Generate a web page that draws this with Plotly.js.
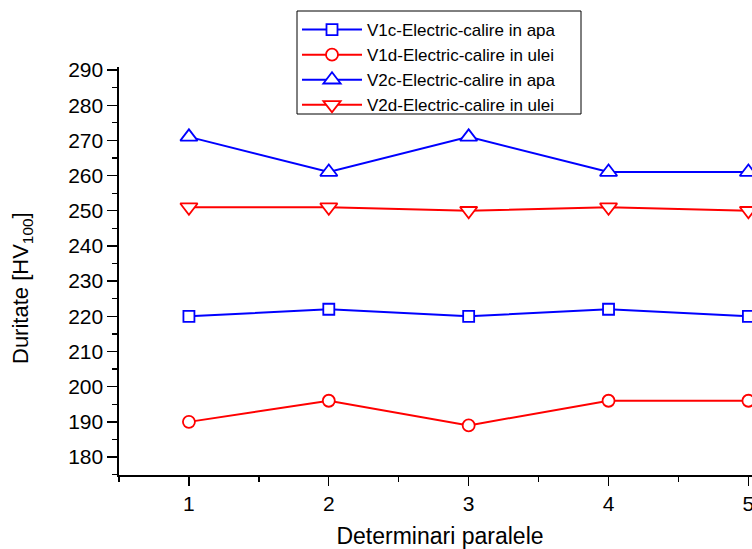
<!DOCTYPE html>
<html>
<head>
<meta charset="utf-8">
<script src="https://cdn.plot.ly/plotly-3.0.1.min.js"></script>
<style>
html,body{margin:0;padding:0;overflow:hidden;background:#fff;}
#chart{width:770px;height:549px;}
</style>
</head>
<body>
<div id="chart"></div>
<script>
const x = [1, 2, 3, 4, 5];
const v1c = [220, 222, 220, 222, 220];
const v1d = [190, 196, 189, 196, 196];
const v2c = [271, 261, 271, 261, 261];
const v2d = [251, 251, 250, 251, 250];
const names = [
  "V1c-Electric-calire in apa",
  "V1d-Electric-calire in ulei",
  "V2c-Electric-calire in apa",
  "V2d-Electric-calire in ulei"
];
const yTickVals = [180, 190, 200, 210, 220, 230, 240, 250, 260, 270, 280, 290];
const xTickVals = [1, 2, 3, 4, 5];
const xMinorVals = [0.5, 1.5, 2.5, 3.5, 4.5];
const xTitle = 'Determinari paralele';
const yTitle = 'Duritate [HV<sub>100</sub>]';

function tr(y, name, color, symbol, size) {
  return {
    x: x, y: y, name: name, type: 'scatter', mode: 'lines+markers',
    line: {color: color, width: 2},
    marker: {symbol: symbol, size: size, color: 'white', line: {color: color, width: 1.8}},
    cliponaxis: true
  };
}
const data = [
  tr(v1c, names[0], '#0000ff', 'square', 11),
  tr(v1d, names[1], '#ff0000', 'circle', 12),
  tr(v2c, names[2], '#0000ff', 'triangle-up', 15),
  tr(v2d, names[3], '#ff0000', 'triangle-down', 15)
];
const fam = 'Liberation Sans, Arial, sans-serif';
const W = 770, H = 549;
const L = 119, R = 9, T = 67, B = 74;
const PW = W - L - R, PH = H - T - B;
const px2x = p => (p - L) / PW;
const px2y = p => 1 - (p - T) / PH;
const layout = {
  width: W, height: H,
  margin: {l: L, r: R, t: T, b: B, autoexpand: false},
  paper_bgcolor: '#fff', plot_bgcolor: '#fff',
  font: {family: fam, color: '#000'},
  showlegend: true,
  legend: {
    xref: 'container', yref: 'container',
    x: 297 / W, y: 1 - 12 / H, xanchor: 'left', yanchor: 'top',
    borderwidth: 0, bgcolor: 'rgba(0,0,0,0)',
    font: {family: fam, size: 17, color: '#000'},
    itemwidth: 60, tracegroupgap: 0
  },
  shapes: [{
    type: 'rect', xref: 'paper', yref: 'paper', layer: 'above',
    x0: px2x(297), x1: px2x(581), y0: px2y(114), y1: px2y(11),
    line: {color: '#000', width: 1}, fillcolor: '#fff'
  }],
  xaxis: {
    range: [0.5, 5.09],
    tickvals: xTickVals, ticktext: xTickVals.map(String),
    ticks: 'outside', ticklen: 9, tickwidth: 1.3, tickcolor: '#000',
    minor: {tickvals: xMinorVals, ticks: 'outside', ticklen: 5, tickwidth: 1.3, tickcolor: '#000'},
    showline: true, linecolor: '#000', linewidth: 1.6,
    showgrid: false, zeroline: false,
    tickfont: {family: fam, size: 21, color: '#000'},
    title: {text: xTitle, font: {family: fam, size: 23, color: '#000'}, standoff: 14}
  },
  yaxis: {
    range: [174.9, 290.85],
    tickvals: yTickVals, ticktext: yTickVals.map(String),
    ticks: 'outside', ticklen: 10, tickwidth: 1.3, tickcolor: '#000',
    minor: {dtick: 5, tick0: 175, ticks: 'outside', ticklen: 5, tickwidth: 1.3, tickcolor: '#000'},
    showline: true, linecolor: '#000', linewidth: 1.6,
    showgrid: false, zeroline: false,
    tickfont: {family: fam, size: 21, color: '#000'}
  },
  annotations: [{
    xref: 'paper', yref: 'paper', x: px2x(22), y: px2y(288),
    xanchor: 'center', yanchor: 'middle', showarrow: false, textangle: -90,
    text: yTitle, font: {family: fam, size: 22, color: '#000'}
  }]
};
Plotly.newPlot('chart', data, layout, {displayModeBar: false, staticPlot: true});
</script>
</body>
</html>
